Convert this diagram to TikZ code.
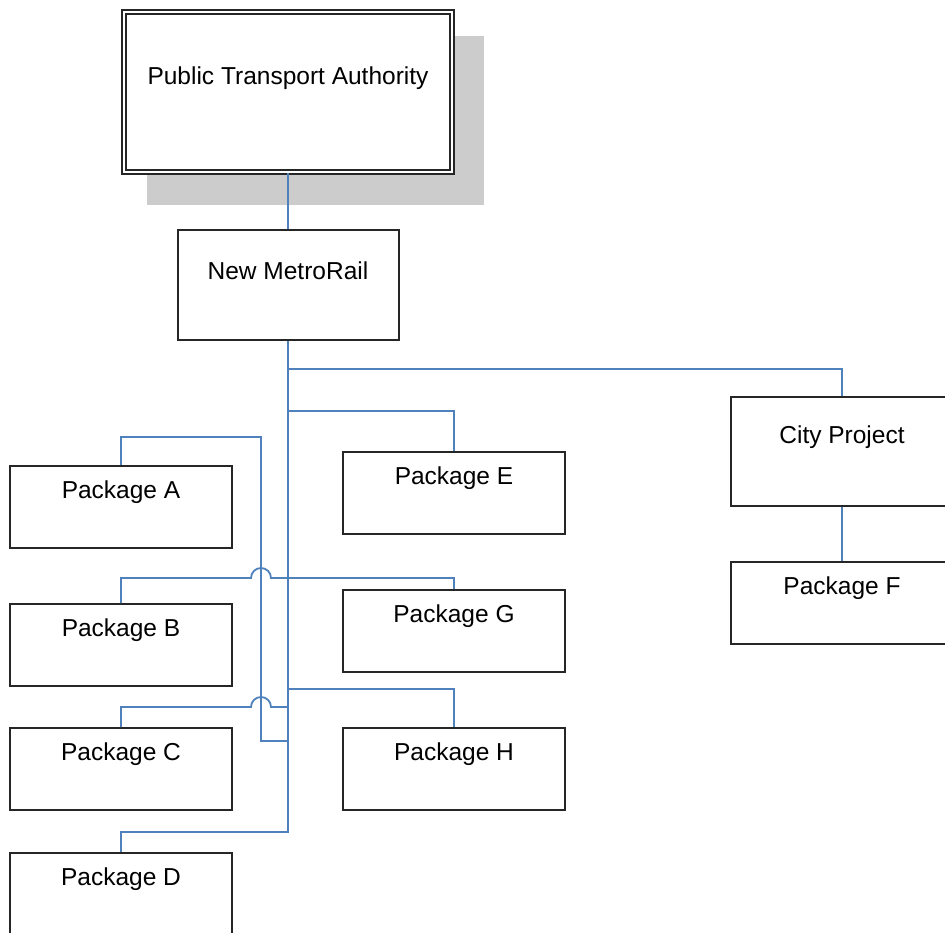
\documentclass[tikz,border=0pt]{standalone}
\usepackage{fontspec}
\setmainfont{Liberation Sans}
\usetikzlibrary{calc,backgrounds}
\definecolor{linkblue}{RGB}{79,129,189}
\begin{document}
\begin{tikzpicture}[x=1pt,y=1pt,font=\fontsize{24.5}{29}\selectfont,
 box/.style={draw=black!85,fill=white,line width=2pt,inner sep=0pt,minimum width=222pt},
 pkg/.style={box,text height=32pt,text depth=50pt},
 link/.style={draw=linkblue,line width=1.8pt}]
\useasboundingbox (0,0) rectangle (945,-933);
\clip (0,0) rectangle (945,-933);
\node[box,double,double distance=2.6pt,line width=1.8pt,minimum width=328pt,text height=73pt,text depth=87pt] (pta) at (288,-92) {Public Transport Authority};
\begin{scope}[on background layer]
\fill[black!20] ($(pta.north west)+(24,-25)$) rectangle ($(pta.south east)+(31,-32)$);
\end{scope}
\node[box,minimum width=221pt,text height=50pt,text depth=60pt] (nmr) at (288,-285) {New MetroRail};
\node[box,text height=46pt,text depth=63pt] (city) at (842,-451.5) {City Project};
\foreach \nm/\x/\y in {A/121/507,B/121/645,C/121/769,D/121/894,E/454/493,G/454/631,H/454/769,F/842/603}{
 \node[pkg] (pkg\nm) at (\x,-\y) {Package \nm};
}
% tree lines
\coordinate (bendA) at (261,-437);
\coordinate (jB) at ($(nmr.south)+(0,-237)$);
\coordinate (jH) at ($(nmr.south)+(0,-348)$);
\coordinate (jC) at ($(nmr.south)+(0,-366)$);
\draw[link] (pta.south) -- (nmr.north);
\draw[link] (nmr.south) -- ++(0,-491) -| (pkgD.north);
\draw[link] ($(nmr.south)+(0,-28)$) -| (city.north);
\draw[link] (city.south) -- (pkgF.north);
\draw[link] ($(nmr.south)+(0,-70)$) -| (pkgE.north);
\draw[link] (pkgA.north) |- (bendA) |- ($(nmr.south)+(0,-400)$);
\draw[link] (jB) -| (pkgG.north);
\draw[link] (jH) -| (pkgH.north);
\draw[link] (jB) -- ($(bendA |- jB)+(10,0)$) arc[start angle=0,end angle=180,radius=10pt] -| (pkgB.north);
\draw[link] (jC) -- ($(bendA |- jC)+(10,0)$) arc[start angle=0,end angle=180,radius=10pt] -| (pkgC.north);
\end{tikzpicture}
\end{document}
